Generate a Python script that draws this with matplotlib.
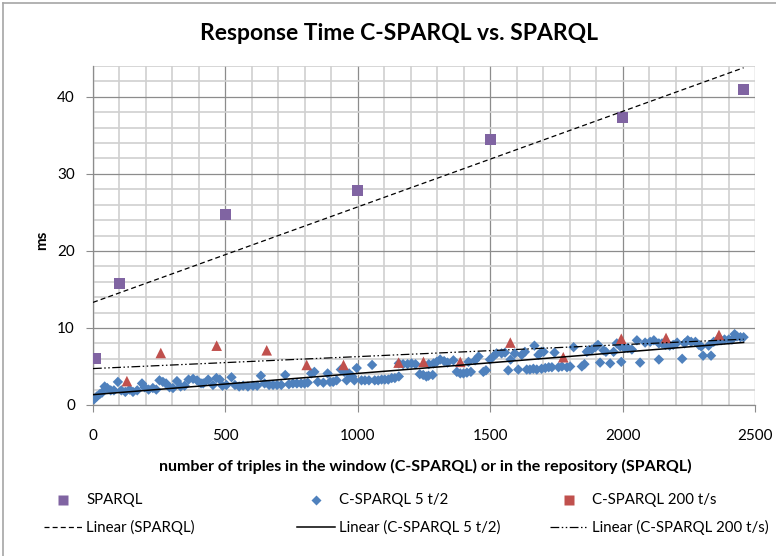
import numpy as np
import matplotlib
matplotlib.use("Agg")
import matplotlib.pyplot as plt
from matplotlib.lines import Line2D
from matplotlib.ticker import MultipleLocator

plt.rcParams['font.family'] = ['Lato', 'DejaVu Sans']

# ---------------- data ----------------
sparql_x = [10, 100, 500, 1000, 1500, 2000, 2455]
sparql_y = [6.0, 15.8, 24.7, 27.8, 34.5, 37.3, 40.9]

c200_x = [128, 256, 467, 656, 807, 946, 1154, 1248, 1387, 1576, 1776, 1995, 2164, 2364]
c200_y = [3.1, 6.75, 7.7, 7.1, 5.2, 5.2, 5.5, 5.6, 5.6, 8.1, 6.2, 8.6, 8.7, 9.1]

c5_x = [4, 14, 25, 34, 44, 54, 67, 79, 94, 107, 122, 138, 151, 167, 185, 195, 210, 226, 239,
        251, 264, 276, 289, 302, 317, 331, 346, 361, 378, 393, 408,
        416, 435, 453, 466, 479, 489, 504, 523, 536, 552, 567, 585, 604, 620, 634, 648, 665,
        680, 695, 711, 726, 740, 755, 770, 786, 799, 811, 824, 836, 849,
        870, 886, 895, 907, 920, 936, 949, 958, 967, 979, 987, 996, 1014, 1027, 1042, 1054,
        1064, 1077, 1090, 1102, 1115, 1128, 1140, 1155, 1155, 1171, 1188, 1203, 1218, 1234,
        1247, 1259, 1268,
        1267, 1283, 1286, 1298, 1311, 1326, 1339, 1361, 1374, 1387, 1399, 1412, 1418, 1427,
        1443, 1456, 1474, 1484, 1499, 1512, 1524, 1543, 1556, 1568, 1577, 1593, 1606, 1619,
        1631, 1638, 1650, 1663, 1667, 1676, 1682, 1694, 1694,
        1702, 1708, 1721, 1733, 1743, 1758, 1771, 1790, 1802, 1815, 1846, 1856, 1865, 1871,
        1884, 1897, 1907, 1915, 1928, 1937, 1953, 1966, 1978, 1991, 1995, 2007, 2020, 2035,
        2054, 2066, 2085, 2104,
        2118, 2137, 2137, 2149, 2162, 2178, 2191, 2206, 2225, 2234, 2246, 2259, 2275, 2288,
        2297, 2304, 2325, 2334, 2344, 2357, 2372, 2385, 2401, 2413, 2423, 2432, 2445, 2457]
c5_y = [0.74, 1.1, 1.4, 1.6, 2.4, 2.2, 1.9, 1.9, 3.0, 1.9, 1.7, 2.0, 1.7, 1.9, 2.8, 2.3, 2.0, 2.2, 2.0,
        3.2, 3.0, 2.8, 2.3, 2.2, 3.1, 2.4, 2.5, 3.3, 3.4, 3.2, 2.8,
        2.8, 3.3, 2.6, 3.5, 3.3, 2.5, 2.6, 3.6, 2.6, 2.4, 2.5, 2.4, 2.5, 2.5, 3.8, 2.8, 2.6,
        2.6, 2.6, 2.6, 3.9, 2.7, 2.8, 2.8, 2.8, 2.8, 2.9, 4.1, 4.3, 3.0,
        2.9, 4.1, 3.0, 3.0, 3.2, 4.6, 4.3, 3.2, 4.1, 3.7, 3.2, 4.8, 3.2, 3.2, 3.2, 5.2,
        3.2, 3.2, 3.3, 3.3, 3.3, 3.5, 3.5, 3.7, 5.4, 5.3, 5.3, 5.4, 5.3, 4.0,
        3.9, 3.7, 5.3,
        3.8, 3.9, 5.4, 5.6, 5.9, 5.7, 5.5, 5.8, 4.3, 4.1, 4.1, 4.2, 5.6, 4.3,
        5.8, 6.3, 4.3, 4.5, 5.9, 6.3, 6.7, 6.7, 6.8, 4.5, 5.9, 6.7, 4.6, 6.5,
        6.9, 4.6, 4.6, 4.7, 7.7, 4.6, 6.5, 6.9, 4.7,
        6.9, 4.8, 4.9, 4.9, 6.8, 4.9, 5.0, 4.9, 5.0, 7.5, 5.0, 5.3, 6.9, 7.1,
        7.2, 7.5, 7.8, 5.5, 7.1, 6.9, 5.4, 6.9, 8.0, 7.6, 5.6, 7.4, 7.4, 7.2,
        8.4, 5.5, 8.1, 8.2,
        8.4, 8.0, 5.9, 8.0, 7.8, 7.7, 7.8, 8.1, 6.0, 8.0, 8.4, 8.2, 8.2, 7.8,
        7.6, 6.4, 7.7, 6.4, 8.2, 8.4, 8.4, 8.5, 8.5, 8.5, 9.2, 8.9, 8.8, 8.8]

x_ticks = [0, 500, 1000, 1500, 2000, 2500]
y_ticks = [0, 10, 20, 30, 40]

title = "Response Time C-SPARQL vs. SPARQL"
xlabel = "number of triples in the window (C-SPARQL) or in the repository (SPARQL)"
ylabel = "ms"
names = ["SPARQL", "C-SPARQL 5 t/2", "C-SPARQL 200 t/s"]
trend_names = ["Linear (SPARQL)", "Linear (C-SPARQL 5 t/2)", "Linear (C-SPARQL 200 t/s)"]

# ---------------- styles ----------------
PURPLE = "#8064A2"
BLUE = "#4F81BD"
RED = "#C0504D"
MAJOR = "#8c8c8c"
MINOR = "#d0d0d0"

W, H = 776, 556
fig = plt.figure(figsize=(W / 100, H / 100), dpi=100)

def fx(px):
    return px / W

def fy(py):
    return 1 - py / H

L, R, T, B = 93, 755, 66, 405
ax = fig.add_axes([fx(L), fy(B), fx(R - L), (B - T) / H])
ax.set_xlim(0, 2500)
ax.set_ylim(0, 44)
ax.set_xticks(x_ticks)
ax.set_yticks(y_ticks)
ax.xaxis.set_minor_locator(MultipleLocator(100))
ax.yaxis.set_minor_locator(MultipleLocator(2))
ax.grid(which='major', color=MAJOR, lw=0.9, zorder=0)
ax.grid(which='minor', color=MINOR, lw=1.2, zorder=0)
ax.set_axisbelow(True)
for s in ['top', 'right']:
    ax.spines[s].set_visible(False)
for s in ['left', 'bottom']:
    ax.spines[s].set_color(MAJOR)
    ax.spines[s].set_linewidth(0.9)
ax.tick_params(which='major', length=5, color=MAJOR, labelsize=11)
ax.tick_params(which='minor', length=0)
ax.tick_params(axis='x', pad=12)
ax.tick_params(axis='y', pad=8)

# markers
ax.scatter(c5_x, c5_y, marker='D', s=28, color=BLUE, edgecolors='none', zorder=3)
ax.scatter(c200_x, c200_y, marker='^', s=58, color=RED, edgecolors='none', zorder=3)
ax.scatter(sparql_x, sparql_y, marker='s', s=64, color=PURPLE, edgecolors='none', zorder=4)

# linear trend lines computed from the data
xe = max(max(sparql_x), max(c5_x), max(c200_x))
xs = np.array([0, xe])
ls_sparql = dict(color='black', lw=0.9, dashes=(4, 2.5))
ls_c5 = dict(color='black', lw=1.1, linestyle='-')
ls_c200 = dict(color='black', lw=0.9, dashes=(7, 2, 1.2, 2, 1.2, 2))
for (xv, yv), st in [((sparql_x, sparql_y), ls_sparql), ((c5_x, c5_y), ls_c5),
                     ((c200_x, c200_y), ls_c200)]:
    k, b = np.polyfit(xv, yv, 1)
    ax.plot(xs, k * xs + b, zorder=5, **st)

# texts
fig.text(fx(399), fy(33), title, ha='center', va='center', fontsize=16.5, fontweight='bold')
fig.text(fx(425), fy(466), xlabel, ha='center', va='center', fontsize=11.5, fontweight='bold')
fig.text(fx(42), fy(240), ylabel, ha='center', va='center', rotation=90, fontsize=11,
         fontweight='bold')

# legend (manual, Excel-like layout)
cols = [44, 297, 550]
row1, row2 = 500, 527
mk = [dict(marker='s', color=PURPLE, ms=7), dict(marker='D', color=BLUE, ms=5),
      dict(marker='s', color=RED, ms=7)]
for c, name, m in zip(cols, names, mk):
    fig.add_artist(Line2D([fx(c + 19)], [fy(row1)], transform=fig.transFigure,
                          linestyle='none', markeredgecolor='none', **m))
    fig.text(fx(c + 42), fy(row1), name, ha='left', va='center', fontsize=10.8)
for c, name, st in zip(cols, trend_names, [ls_sparql, ls_c5, ls_c200]):
    fig.add_artist(Line2D([fx(c), fx(c + 38)], [fy(row2), fy(row2)],
                          transform=fig.transFigure, **st))
    fig.text(fx(c + 42), fy(row2), name, ha='left', va='center', fontsize=10.8)

# chart border (top and left visible)
fig.add_artist(Line2D([fx(3), fx(3)], [fy(3), 0], transform=fig.transFigure,
                      color='#a6a6a6', lw=1.2))
fig.add_artist(Line2D([fx(3), 1], [fy(3), fy(3)], transform=fig.transFigure,
                      color='#a6a6a6', lw=1.2))

fig.savefig("out.png", dpi=100)
